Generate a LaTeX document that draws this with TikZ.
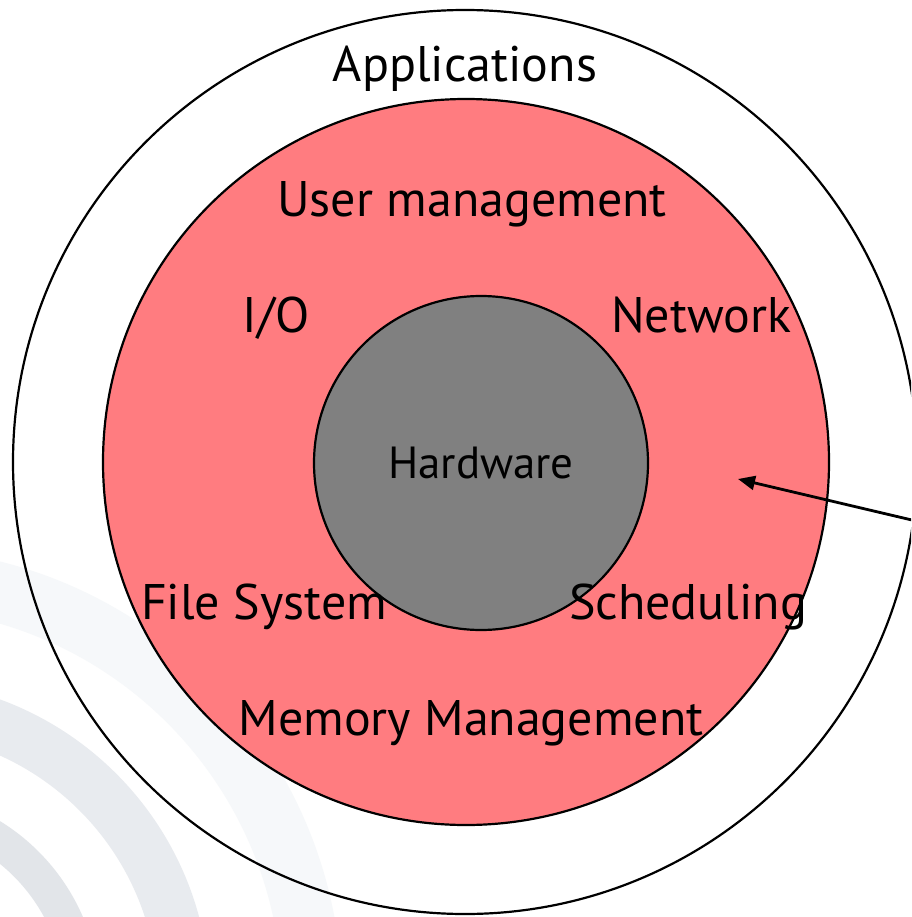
\documentclass[tikz,border=0pt]{standalone}
\usepackage{fontspec}
\setmainfont{PT Sans}
\usetikzlibrary{arrows.meta}
\definecolor{layerred}{RGB}{255,124,128}
\definecolor{hwgrey}{RGB}{128,128,128}
\definecolor{wmfaint}{RGB}{246,248,250}
\definecolor{wmband}{RGB}{232,235,239}
\definecolor{wmdark}{RGB}{226,229,233}
\tikzset{
  ring/.style={circle, draw=black, line width=2.2pt, inner sep=0pt},
  lbl/.style={anchor=base, inner sep=0pt, font=\fontsize{50}{58}\selectfont},
  hwlbl/.style={anchor=base, inner sep=0pt, font=\fontsize{45}{52}\selectfont},
  pointer/.style={-{Triangle[length=17pt,width=14pt]}, line width=2.8pt}
}
\begin{document}
\begin{tikzpicture}[x=1pt,y=-1pt]
\useasboundingbox (0,0) rectangle (911,917);
\clip (0,0) rectangle (911,917);
\fill[white] (0,0) rectangle (911,917);
% watermark arcs
\coordinate (wm) at (-110,1000);
\fill[wmfaint, even odd rule] (wm) circle (452pt) (wm) circle (392pt);
\fill[wmband, even odd rule] (wm) circle (320pt) (wm) circle (268pt);
\fill[wmdark, even odd rule] (wm) circle (210pt) (wm) circle (175pt);
% layers
\node[ring, minimum size=904pt] (apps) at (465,462) {};
\node[ring, fill=layerred, minimum size=726pt] (os) at (466,462) {};
\node[ring, fill=hwgrey, minimum size=334pt] (hw) at (481,463) {};
% labels
\node[lbl] (tapps) at (465,82) {Applications};
\node[lbl] (tuser) at (472,217) {User management};
\node[lbl] (tio) at (276,332) {I/O};
\node[lbl] (tnet) at (701,332) {Network};
\node[hwlbl] (thw) at (481,478) {Hardware};
\node[lbl] (tfs) at (264,619) {File System};
\node[lbl] (tsched) at (688,619) {Scheduling};
\node[lbl] (tmem) at (471,735) {Memory Management};
% pointer
\coordinate (pstart) at (950,529);
\coordinate (ptip) at (738,479);
\draw[pointer] (pstart) -- (ptip);
\end{tikzpicture}
\end{document}
